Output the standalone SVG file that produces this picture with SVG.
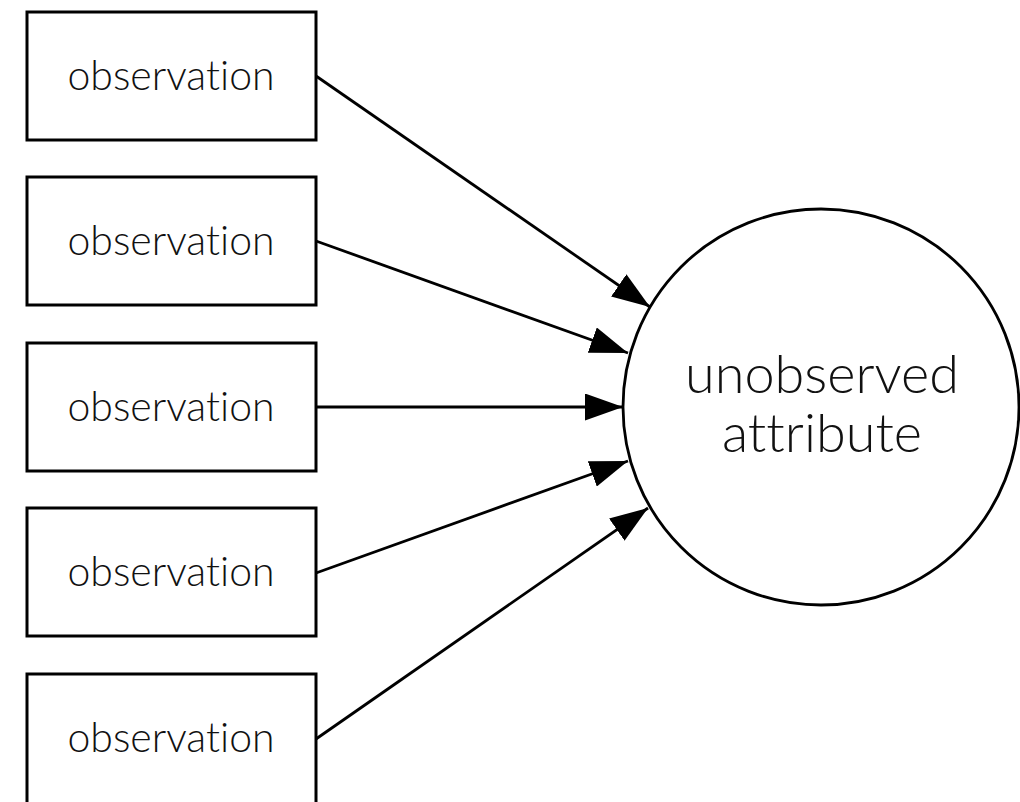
<svg xmlns="http://www.w3.org/2000/svg" width="1020" height="802" viewBox="0 0 1020 802">
<style>
.box{fill:#fff;stroke:#000;stroke-width:3}
.circ{fill:#fff;stroke:#000;stroke-width:2.8}
.lbl{font-family:Lato,"Noto Sans",sans-serif;font-weight:300;font-size:41px;fill:#111;text-anchor:middle;font-variant-ligatures:none;font-feature-settings:"liga" 0,"dlig" 0}
.big{font-size:54px}
.edge{stroke:#000;stroke-width:2.8;fill:none;marker-end:url(#arr)}
</style>
<defs>
<marker id="arr" markerUnits="userSpaceOnUse" markerWidth="38" markerHeight="27" refX="38" refY="13.5" orient="auto">
<path d="M0,0 L38,13.5 L0,27 z" fill="#000"/>
</marker>
</defs>
<g id="connectors">
<line class="edge" x1="316" y1="76" x2="650" y2="307"/>
<line class="edge" x1="316" y1="241" x2="628" y2="353"/>
<line class="edge" x1="316" y1="407" x2="623" y2="407"/>
<line class="edge" x1="316" y1="573" x2="628" y2="461"/>
<line class="edge" x1="316" y1="739" x2="648" y2="508"/>
</g>
<g id="obs1"><rect class="box" x="27" y="12" width="289" height="128"/><text class="lbl" x="171" y="90">observation</text></g>
<g id="obs2"><rect class="box" x="27" y="177" width="289" height="128"/><text class="lbl" x="171" y="255">observation</text></g>
<g id="obs3"><rect class="box" x="27" y="343" width="289" height="128"/><text class="lbl" x="171" y="421">observation</text></g>
<g id="obs4"><rect class="box" x="27" y="508" width="289" height="128"/><text class="lbl" x="171" y="586">observation</text></g>
<g id="obs5"><rect class="box" x="27" y="674" width="289" height="130"/><text class="lbl" x="171" y="752">observation</text></g>
<g id="attr"><circle class="circ" cx="821" cy="407" r="198"/>
<text class="lbl big" x="822" y="393">unobserved</text>
<text class="lbl big" x="822" y="452">attribute</text></g>
</svg>
